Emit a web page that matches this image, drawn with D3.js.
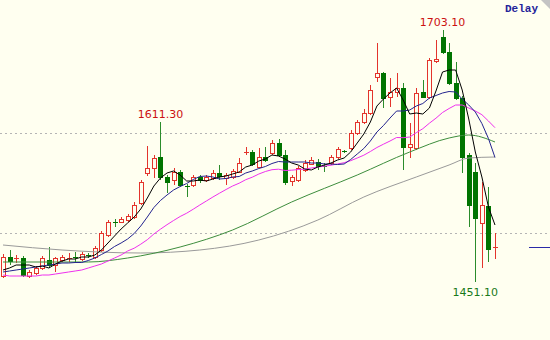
<!DOCTYPE html>
<html>
<head>
<meta charset="utf-8">
<script src="https://cdn.jsdelivr.net/npm/d3@7"></script>
<style>
  html, body { margin: 0; padding: 0; background: #fffff0; }
  svg { display: block; }
</style>
</head>
<body>
<svg id="chart"></svg>
<script>
// Daily bars, oldest first
const open = [
  1457, 1476, 1474, 1475, 1457, 1460, 1465, 1473, 1468, 1473,
  1474, 1476, 1474, 1478, 1476, 1483, 1498, 1511, 1511, 1513,
  1516, 1530, 1560, 1565, 1576, 1556, 1553, 1561, 1547, 1548,
  1556, 1553, 1555, 1560, 1555, 1556, 1561, 1580, 1581, 1566,
  1576, 1580, 1590, 1578, 1552, 1553, 1563, 1569, 1571, 1567,
  1570, 1576, 1582, 1585, 1600, 1611, 1620, 1656, 1660, 1636,
  1641, 1645, 1586, 1585, 1641, 1636, 1672, 1696, 1681, 1650,
  1635, 1578, 1561, 1510, 1527, 1485
];
const high = [
  1479, 1483, 1478, 1477, 1463, 1467, 1477, 1486, 1476, 1478,
  1480, 1481, 1481, 1480, 1487, 1502, 1513, 1514, 1516, 1519,
  1531, 1553, 1587, 1578, 1611.3, 1558, 1565, 1563, 1549, 1558,
  1558, 1558, 1563, 1568, 1560, 1564, 1575, 1586, 1583, 1585,
  1586, 1593, 1594, 1583, 1558, 1567, 1573, 1576, 1574, 1570,
  1578, 1586, 1583, 1603, 1613, 1624, 1648, 1690, 1661, 1655,
  1660, 1650, 1610, 1645, 1653, 1675, 1693, 1703.1, 1690, 1671,
  1637, 1580, 1570, 1551, 1546, 1500
];
const low = [
  1455, 1468, 1470, 1456, 1455, 1458, 1463, 1465, 1461, 1471,
  1471, 1470, 1472, 1475, 1474, 1481, 1496, 1506, 1510, 1511,
  1514, 1528, 1557, 1555, 1553, 1540, 1548, 1546, 1536, 1546,
  1550, 1551, 1553, 1553, 1548, 1554, 1560, 1578, 1567, 1565,
  1571, 1578, 1576, 1548, 1547, 1551, 1561, 1568, 1563, 1561,
  1568, 1574, 1580, 1583, 1598, 1609, 1618, 1651, 1625, 1626,
  1636, 1563, 1575, 1583, 1635, 1634, 1670, 1679, 1648, 1633,
  1560, 1506, 1451.1, 1465, 1471, 1474
];
const close = [
  1476, 1472, 1475, 1458, 1461, 1465, 1475, 1468, 1475, 1476,
  1475, 1475, 1479, 1477, 1485, 1500, 1511, 1510, 1514, 1517,
  1528, 1551, 1565, 1575, 1556, 1551, 1561, 1548, 1546, 1556,
  1553, 1556, 1560, 1557, 1558, 1562, 1570, 1581, 1569, 1576,
  1573, 1590, 1578, 1551, 1556, 1565, 1570, 1573, 1567, 1566,
  1576, 1584, 1581, 1600, 1611, 1620, 1643, 1660, 1635, 1641,
  1645, 1586, 1589, 1640, 1636, 1673, 1674, 1681, 1650, 1635,
  1576, 1528, 1515, 1528, 1484, 1486
];

// moving averages, one value per bar
const ma5 = [
  1463, 1465, 1468, 1468, 1468, 1466, 1467, 1465, 1469, 1472,
  1474, 1474, 1476, 1476, 1478, 1483, 1490, 1497, 1504, 1510,
  1516, 1524, 1535, 1547, 1555, 1560, 1562, 1558, 1552, 1552,
  1553, 1552, 1554, 1556, 1557, 1559, 1561, 1566, 1568, 1572,
  1574, 1578, 1577, 1574, 1570, 1568, 1564, 1563, 1566, 1568,
  1570, 1573, 1575, 1581, 1590, 1599, 1611, 1627, 1634, 1640,
  1645, 1633, 1619, 1620, 1619, 1625, 1642, 1661, 1663, 1663,
  1643, 1614, 1581, 1556, 1526, 1508
];
const ma10 = [
  1461, 1462, 1463, 1464, 1465, 1466, 1467, 1468, 1469, 1470,
  1470, 1470.5, 1470.5, 1472.5, 1475, 1478.5, 1482, 1486.5, 1490, 1494,
  1499.5, 1507, 1516, 1525.5, 1532.5, 1538, 1543, 1546.5, 1549.5, 1553.5,
  1556.5, 1557, 1556, 1554, 1554.5, 1556, 1556.5, 1560, 1562, 1564.5,
  1566.5, 1569.5, 1571.5, 1571, 1571, 1571, 1571, 1570, 1570, 1569,
  1569, 1568.5, 1569, 1573.5, 1579, 1584.5, 1592, 1601, 1607.5, 1615,
  1622, 1622, 1623, 1627, 1629.5, 1635, 1637.5, 1640, 1641.5, 1641,
  1634, 1628, 1621, 1609.5, 1594.5, 1575.5
];
const ma20 = [
  1458, 1457, 1457, 1457, 1457, 1457, 1458, 1458, 1459, 1460,
  1461, 1462, 1463, 1465, 1467, 1469, 1472, 1475, 1478, 1482,
  1484.8, 1488.8, 1493.3, 1499, 1503.8, 1508.3, 1512.5, 1516.5, 1519.8, 1523.8,
  1528, 1532, 1536, 1539.8, 1543.5, 1547, 1549.8, 1553.3, 1555.8, 1559,
  1561.5, 1563.3, 1563.8, 1562.5, 1562.8, 1563.5, 1563.8, 1565, 1566, 1566.8,
  1567.8, 1569, 1570.3, 1572.3, 1575, 1577.8, 1581.5, 1585.5, 1588.8, 1592,
  1595.5, 1595.3, 1596, 1600.3, 1604.3, 1609.8, 1614.8, 1620.5, 1624.5, 1628,
  1628, 1625, 1622, 1618.3, 1612, 1605.3
];
// the two slow averages, read every few bars
const slowIdx1 = [0, 13, 19, 27, 35, 44, 54, 62, 68, 71, 75];
const ma30 = [1471, 1471, 1475, 1486, 1503, 1531, 1558, 1581, 1595, 1598, 1591];
const slowIdx2 = [0, 9, 21, 30, 39, 48, 55, 63, 68, 71, 75];
const ma60 = [1488, 1483, 1480, 1483, 1493, 1513, 1536, 1556, 1568, 1575, 1576];

const gridLevels = [1500, 1600];
const markedBars = [24, 67, 72];
const markedSide = ["high", "high", "low"];

const width = 550;
const height = 340;
const bg = "#fffff0";
const upColor = "#e3342c";
const downColor = "#007400";
const downWick = "#2b8c2b";

const svg = d3.select("#chart")
    .attr("width", width)
    .attr("height", height)
    .style("background", bg);

const bars = d3.range(open.length);

const x = d3.scalePoint()
    .domain(bars)
    .range([3, 495]);

const y = d3.scaleLinear()
    .domain([1393, 1733])
    .range([height, 0]);

// dashed price levels
svg.append("g")
    .selectAll("line")
    .data(gridLevels)
    .enter().append("line")
    .attr("x1", 0)
    .attr("x2", width)
    .attr("y1", d => Math.round(y(d)) + 0.5)
    .attr("y2", d => Math.round(y(d)) + 0.5)
    .attr("stroke", "#b4b4b4")
    .attr("stroke-dasharray", "2,3");

// candles
const candle = svg.append("g")
    .selectAll("g")
    .data(bars)
    .enter().append("g");

candle.append("line")
    .attr("x1", i => Math.round(x(i)) + 0.5)
    .attr("x2", i => Math.round(x(i)) + 0.5)
    .attr("y1", i => Math.round(y(high[i])))
    .attr("y2", i => Math.round(y(low[i])))
    .attr("stroke", i => close[i] >= open[i] ? upColor : downWick);

candle.each(function(i) {
    const g = d3.select(this);
    const cx = Math.round(x(i));
    const top = Math.round(y(Math.max(open[i], close[i])));
    const bot = Math.round(y(Math.min(open[i], close[i])));
    const up = close[i] >= open[i];
    if (bot - top < 2) {
        g.append("rect")
            .attr("x", cx - 2).attr("y", top)
            .attr("width", 5).attr("height", 1)
            .attr("fill", up ? upColor : downColor);
    } else if (up) {
        g.append("rect")
            .attr("x", cx - 1.5).attr("y", top + 0.5)
            .attr("width", 4).attr("height", bot - top)
            .attr("fill", bg)
            .attr("stroke", upColor);
    } else {
        g.append("rect")
            .attr("x", cx - 2).attr("y", top)
            .attr("width", 5).attr("height", bot - top + 1)
            .attr("fill", downColor);
    }
});

// moving average lines
const line = d3.line()
    .x(d => x(d[0]))
    .y(d => y(d[1]));

const slowLine = d3.line()
    .x(d => x(d[0]))
    .y(d => y(d[1]))
    .curve(d3.curveMonotoneX);

const averages = [
    { pts: slowIdx2.map((b, k) => [b, ma60[k]]), color: "#9a9a9a", gen: slowLine },
    { pts: slowIdx1.map((b, k) => [b, ma30[k]]), color: "#3d8d3d", gen: slowLine },
    { pts: bars.map(b => [b, ma20[b]]), color: "#ee30ee", gen: line },
    { pts: bars.map(b => [b, ma10[b]]), color: "#24248f", gen: line },
    { pts: bars.map(b => [b, ma5[b]]), color: "#000000", gen: line }
];

svg.append("g")
    .selectAll("path")
    .data(averages)
    .enter().append("path")
    .attr("d", d => d.gen(d.pts))
    .attr("fill", "none")
    .attr("stroke", d => d.color)
    .attr("stroke-width", 1);

// price labels on the extreme bars
svg.append("g")
    .selectAll("text")
    .data(markedBars)
    .enter().append("text")
    .attr("x", i => x(i))
    .attr("y", (i, k) => markedSide[k] === "high" ? y(high[i]) - 4 : y(low[i]) + 14)
    .attr("text-anchor", "middle")
    .attr("font-family", "DejaVu Sans, Verdana, sans-serif")
    .attr("font-size", 11)
    .attr("fill", (i, k) => markedSide[k] === "high" ? "#cc1111" : "#1a7a1a")
    .text((i, k) => (markedSide[k] === "high" ? high[i] : low[i]).toFixed(2));

// last price marker at the right edge
const last = close[close.length - 1];
svg.append("line")
    .attr("x1", 529)
    .attr("x2", width)
    .attr("y1", Math.round(y(last)) + 0.5)
    .attr("y2", Math.round(y(last)) + 0.5)
    .attr("stroke", "#2a2aa8");

// "Delay" tag
svg.append("text")
    .attr("x", 505)
    .attr("y", 12)
    .attr("font-family", "Liberation Mono, monospace")
    .attr("font-size", 11)
    .attr("font-weight", "bold")
    .attr("fill", "#24249a")
    .text("Delay");

svg.append("path")
    .attr("d", "M541,0 L550,0 L550,9 Z")
    .attr("fill", "#c4c4c4");
</script>
</body>
</html>
